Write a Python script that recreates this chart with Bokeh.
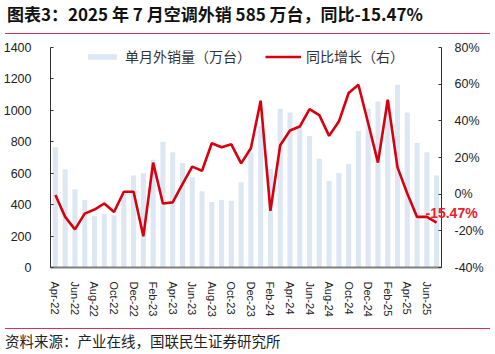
from bokeh.plotting import figure
from bokeh.layouts import column
from bokeh.models import (Range1d, LinearAxis, FixedTicker, PrintfTickFormatter, CustomJSTickFormatter,
                          Legend, LegendItem, ColumnDataSource, Div)
from bokeh.embed import file_html
from bokeh.resources import INLINE

months = ["Apr-22", "May-22", "Jun-22", "Jul-22", "Aug-22", "Sep-22", "Oct-22", "Nov-22", "Dec-22",
          "Jan-23", "Feb-23", "Mar-23", "Apr-23", "May-23", "Jun-23", "Jul-23", "Aug-23", "Sep-23",
          "Oct-23", "Nov-23", "Dec-23", "Jan-24", "Feb-24", "Mar-24", "Apr-24", "May-24", "Jun-24",
          "Jul-24", "Aug-24", "Sep-24", "Oct-24", "Nov-24", "Dec-24", "Jan-25", "Feb-25", "Mar-25",
          "Apr-25", "May-25", "Jun-25", "Jul-25"]
sales = [765, 626, 498, 430, 328, 341, 332, 470, 586, 599, 686, 801, 733, 665, 575, 486, 417, 430,
         424, 543, 733, 901, 628, 1010, 986, 907, 837, 692, 551, 601, 658, 869, 1012, 1056, 1060,
         1163, 986, 792, 733, 585]
yoy = [-0.5, -12.4, -19.2, -10.6, -8.4, -5.1, -9.7, 1.3, 1.3, -23.0, 17.2, -5.1, -4.5, 5.5, 15.0,
       12.8, 27.8, 25.6, 27.2, 16.8, 25.0, 51.0, -9.1, 26.7, 34.7, 36.9, 46.4, 43.1, 31.8, 39.6,
       55.2, 59.7, 38.7, 17.2, 51.5, 14.6, 0.4, -12.4, -12.4, -15.47]
left_ticks = [0, 200, 400, 600, 800, 1000, 1200, 1400]
right_ticks = [-40, -20, 0, 20, 40, 60, 80]

title_text = "图表3：2025 年 7 月空调外销 585 万台，同比-15.47%"
source_text = "资料来源：产业在线，国联民生证券研究所"
legend_labels = ["单月外销量（万台）", "同比增长（右）"]
last_label = "-15.47%"

idx = list(range(len(months)))
src = ColumnDataSource(dict(x=idx, sales=sales, yoy=yoy))

CJK = "Noto Sans CJK SC"
LAT = "Liberation Sans"
RULE = "#DC2F55"

p = figure(width=495, height=294, output_backend="svg", toolbar_location=None,
           x_range=Range1d(-0.5, len(months) - 0.5), y_range=Range1d(0, 1400),
           min_border_left=49, min_border_right=54, min_border_top=13, min_border_bottom=61)
p.outline_line_color = None
p.xgrid.grid_line_color = None
p.ygrid.grid_line_color = None
p.background_fill_color = "white"
p.border_fill_color = "white"

p.extra_y_ranges = {"yoy": Range1d(-40, 80)}

bars = p.vbar(x="x", top="sales", width=0.52, source=src, fill_color="#DDE7F3", line_color=None)
line = p.line(x="x", y="yoy", source=src, y_range_name="yoy", line_color="#D7000F", line_width=2.6)

# x axis
xa = p.xaxis[0]
xa.ticker = FixedTicker(ticks=idx[::2])
xa.major_label_overrides = {i: months[i] for i in idx[::2]}
xa.major_label_orientation = "vertical"
xa.major_label_text_font = LAT
xa.major_label_text_font_size = "11px"
xa.major_label_text_color = "#222222"
xa.major_label_standoff = 8
xa.major_tick_line_color = None
xa.minor_tick_line_color = None
xa.axis_line_color = "#808080"
xa.axis_line_width = 2

# left axis
ya = p.yaxis[0]
ya.ticker = FixedTicker(ticks=left_ticks)
ya.major_tick_in = 3
ya.major_tick_out = 0
ya.minor_tick_line_color = None
ya.axis_line_color = "#333333"
ya.major_tick_line_color = "#333333"
ya.major_label_text_font = LAT
ya.major_label_text_font_size = "12.5px"
ya.major_label_text_color = "#222222"
ya.major_label_standoff = 19

# right axis
ra = LinearAxis(y_range_name="yoy", ticker=FixedTicker(ticks=right_ticks),
                formatter=PrintfTickFormatter(format="%d%%"))
ra.major_tick_in = 3
ra.major_tick_out = 0
ra.minor_tick_line_color = None
ra.axis_line_color = "#333333"
ra.major_tick_line_color = "#333333"
ra.major_label_text_font = LAT
ra.major_label_text_font_size = "12.5px"
ra.major_label_text_color = "#222222"
ra.major_label_standoff = 13
p.add_layout(ra, "right")

# data label for the latest point, drawn as an extra (line-less) right axis
label_axis = LinearAxis(y_range_name="yoy", ticker=FixedTicker(ticks=[yoy[-1] + 5.3]),
                        formatter=CustomJSTickFormatter(args=dict(t=last_label), code="return t"))
label_axis.axis_line_color = None
label_axis.major_tick_line_color = None
label_axis.minor_tick_line_color = None
label_axis.major_label_text_font = LAT
label_axis.major_label_text_font_style = "bold"
label_axis.major_label_text_font_size = "14px"
label_axis.major_label_text_color = "#E8202A"
label_axis.major_label_standoff = -67
p.add_layout(label_axis, "right")

legend = Legend(items=[LegendItem(label=legend_labels[0], renderers=[bars]),
                       LegendItem(label=legend_labels[1], renderers=[line])],
                orientation="horizontal", location=(34, 201),
                border_line_color=None, background_fill_alpha=0,
                glyph_width=36, glyph_height=7, label_height=18,
                label_text_font=CJK, label_text_font_size="14px", label_text_color="#333333",
                label_standoff=5, spacing=14, padding=0, margin=0)
p.add_layout(legend, "center")

title_div = Div(text=title_text, width=485, height=34, margin=(0, 5, 0, 5),
                styles={"font-family": CJK, "font-weight": "bold", "font-size": "17px",
                        "color": "#111111", "line-height": "28px", "padding-left": "2px",
                        "border-bottom": "1px solid " + RULE, "box-sizing": "border-box",
                        "white-space": "nowrap"})
source_div = Div(text=source_text, width=485, height=26, margin=(0, 5, 0, 5),
                 styles={"font-family": CJK, "font-size": "14.5px", "color": "#222222",
                         "line-height": "24px", "border-top": "1px solid " + RULE,
                         "box-sizing": "border-box", "white-space": "nowrap"})

layout = column(title_div, p, source_div, spacing=0)
open("out.html", "w").write(file_html(layout, INLINE))
